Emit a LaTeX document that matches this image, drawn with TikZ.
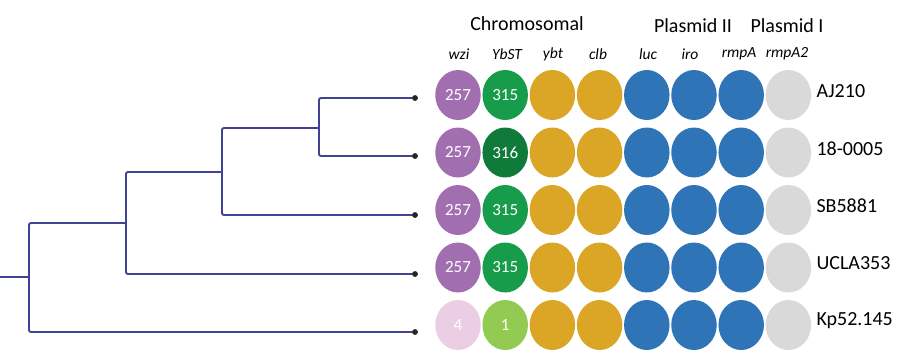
\documentclass[tikz,border=0pt]{standalone}
\usepackage{fontspec}
\setmainfont{Carlito}
\usetikzlibrary{positioning,shapes.geometric}
\definecolor{treeblue}{RGB}{66,66,148}
\definecolor{wzipurple}{RGB}{161,111,176}
\definecolor{wzipink}{RGB}{236,206,228}
\definecolor{ybgreen}{RGB}{22,156,74}
\definecolor{ybdark}{RGB}{16,122,58}
\definecolor{yblight}{RGB}{146,202,82}
\definecolor{mustard}{RGB}{219,166,38}
\definecolor{plblue}{RGB}{46,116,182}
\definecolor{nogrey}{RGB}{217,217,217}
\tikzset{
  spot/.style={ellipse,minimum width=45.5pt,minimum height=50pt,inner sep=0pt,text=white,font=\fontsize{17}{17}\selectfont},
  branch/.style={treeblue,line width=1.9pt,rounded corners=2pt},
  leaf/.style={circle,fill=black!85,inner sep=0pt,minimum size=5.5pt},
  head/.style={font=\fontsize{20}{20}\selectfont},
  gene/.style={font=\fontsize{15.5}{15.5}\selectfont\itshape},
  strain/.style={font=\fontsize{20}{20}\selectfont,anchor=west}
}
\begin{document}
\begin{tikzpicture}[x=1pt,y=-1pt]
\useasboundingbox (0,0) rectangle (900,362);

% headers
\node[head] (chrom) at (527,24) {Chromosomal};
\node[head] (plas2) at (693,26) {Plasmid II};
\node[head] (plas1) at (787,26) {Plasmid I};
\foreach \x/\g in {459/wzi,507/YbST,553/ybt,598/clb,648/luc,690/iro,739/rmpA,787/rmpA2}
  \node[gene] (g-\g) at (\x,54) {\g};

% dot matrix
\foreach \r/\y/\strain/\cw/\nw/\cy/\ny in {1/95/AJ210/wzipurple/257/ybgreen/315,
    2/152.5/18-0005/wzipurple/257/ybdark/316,
    3/210/SB5881/wzipurple/257/ybgreen/315,
    4/267.5/UCLA353/wzipurple/257/ybgreen/315,
    5/325/Kp52.145/wzipink/4/yblight/1}{
  \node[spot,fill=\cw] (s\r-1) at (458,\y) {\nw};
  \node[spot,fill=\cy,right=1.3pt of s\r-1] (s\r-2) {\ny};
  \foreach \c/\col in {3/mustard,4/mustard,5/plblue,6/plblue,7/plblue,8/nogrey}{
    \pgfmathtruncatemacro\p{\c-1}
    \node[spot,fill=\col,right=1.3pt of s\r-\p] (s\r-\c) {};
  }
  \node[strain,yshift=4pt] (lab\r) at (813,\y) {\strain};
}

% tree
\coordinate (root) at (0,277);
\coordinate (n1) at (29,277);
\coordinate (n2) at (126,223);
\coordinate (n3) at (222,172);
\coordinate (n4) at (319,128);
\node[leaf] (t1) at (415,98) {};
\node[leaf] (t2) at (415,156) {};
\node[leaf] (t3) at (415,215) {};
\node[leaf] (t4) at (415,274) {};
\node[leaf] (t5) at (415,332) {};
\draw[branch] (root) -- (n1);
\draw[branch] (n1) |- (n2);
\draw[branch] (n1) |- (t5.center);
\draw[branch] (n2) |- (n3);
\draw[branch] (n2) |- (t4.center);
\draw[branch] (n3) |- (n4);
\draw[branch] (n3) |- (t3.center);
\draw[branch] (n4) |- (t1.center);
\draw[branch] (n4) |- (t2.center);
\foreach \i in {1,...,5}
  \node[leaf] at (t\i) {};
\end{tikzpicture}
\end{document}
